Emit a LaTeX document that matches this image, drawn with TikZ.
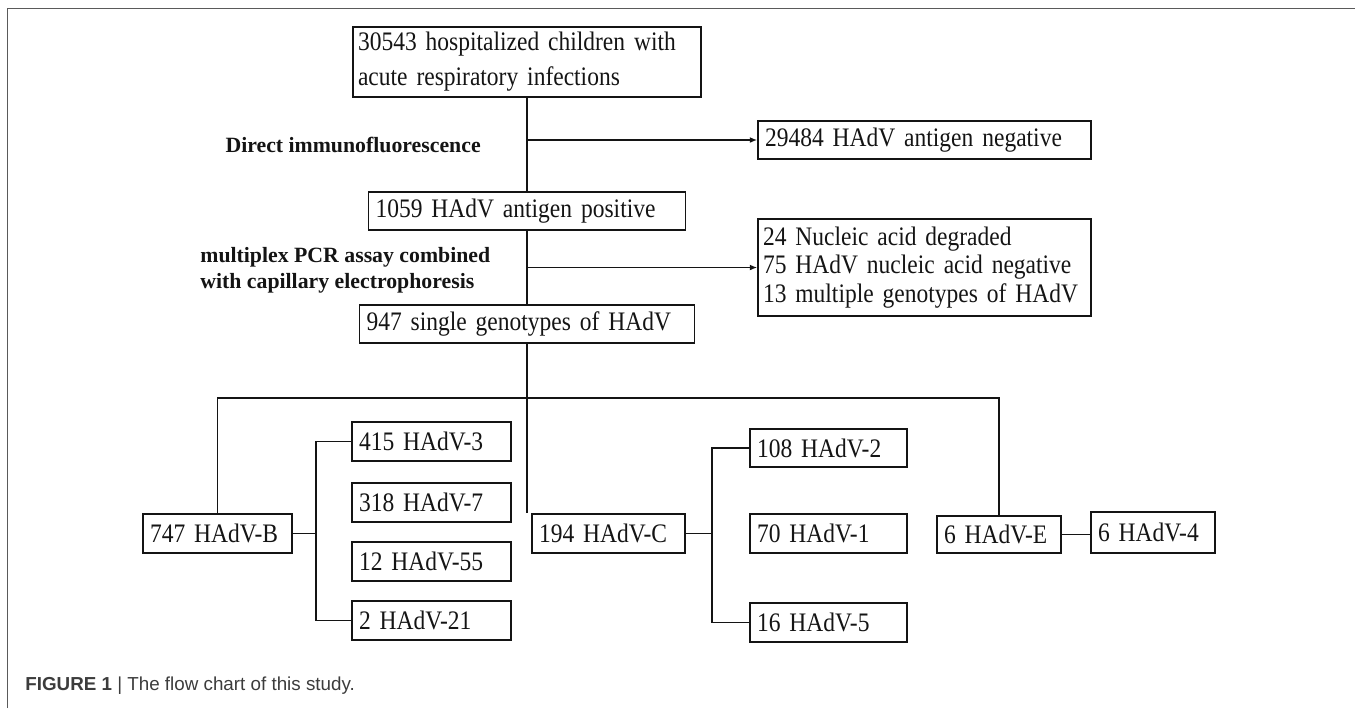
\documentclass[tikz,border=0pt]{standalone}
\usepackage{fontspec}
\setmainfont{Liberation Serif}
\setsansfont{Liberation Sans}
\newfontfamily\boxserif{Liberation Serif}[FakeStretch=0.88]
\usetikzlibrary{arrows.meta,positioning,calc}
\definecolor{ink}{HTML}{141414}
\definecolor{frame}{HTML}{5A5A5A}
\definecolor{capgray}{HTML}{3C3C3C}
\newcommand{\boxfont}[1]{\boxserif\fontsize{15.2}{#1}\selectfont}
\tikzset{
  box/.style={draw=ink, line width=0.9pt, inner xsep=1.4mm, inner ysep=0pt, align=left, text=ink, font=\boxfont{16.2pt}},
  stage/.style={font=\fontsize{12.4}{14.7}\selectfont\bfseries, text=ink, align=left, inner sep=0pt},
  link/.style={draw=ink, line width=0.9pt},
  arrow/.style={-{Latex[length=1.5mm,width=1.2mm]}, draw=ink, line width=0.9pt},
  caption/.style={font=\fontsize{10.7}{13}\selectfont\sffamily, text=capgray, inner sep=0pt}
}
\begin{document}
\begin{tikzpicture}[x=0.02cm,y=-0.02cm]
\useasboundingbox (0,0) rectangle (1355,708);
\draw[frame, line width=0.8pt] (7.5,708) -- (7.5,8.5) -- (1355,8.5);
\node[box, text width=67.6mm, inner xsep=1mm, minimum height=14mm, font=\boxfont{19.8pt}] (top) at (527,62) {30543 hospitalized children with\\acute respiratory infections};
\node[box, text width=63.8mm, minimum height=7.6mm] (neg) at (924.5,140) {29484 HAdV antigen negative};
\node[box, text width=60.6mm, minimum height=7.6mm] (pos) at (527,211) {1059 HAdV antigen positive};
\node[box, text width=64.6mm, inner xsep=1mm, minimum height=19.4mm] (excl) at (924.5,267.5) {24 Nucleic acid degraded\\75 HAdV nucleic acid negative\\13 multiple genotypes of HAdV};
\node[box, text width=64.2mm, minimum height=7.6mm] (single) at (527,324) {947 single genotypes of HAdV};
\node[stage, anchor=east] (dif) at (481,145) {Direct immunofluorescence};
\node[stage, anchor=west] (pcr) at (200,270) {multiplex PCR assay combined\\with capillary electrophoresis};
\draw[link] (top.south) -- (top.south |- pos.north);
\draw[arrow] (top.south |- neg.west) -- (neg.west);
\draw[link] (pos.south) -- (pos.south |- single.north);
\draw[arrow] (pos.south |- excl.west) -- (excl.west);
\node[box, text width=27mm, minimum height=7.8mm] (hadvb) at (217.5,533.5) {747 HAdV-B};
\node[box, text width=29mm, minimum height=7.8mm] (b3) at (431.5,441.5) {415 HAdV-3};
\node[box, text width=29mm, minimum height=7.8mm] (b7) at (431.5,502.5) {318 HAdV-7};
\node[box, text width=29mm, minimum height=7.8mm] (b55) at (431.5,561.5) {12 HAdV-55};
\node[box, text width=29mm, minimum height=7.8mm] (b21) at (431.5,620.5) {2 HAdV-21};
\node[box, text width=27.8mm, minimum height=7.8mm] (hadvc) at (608.5,533.5) {194 HAdV-C};
\node[box, text width=28.6mm, minimum height=7.6mm] (c2) at (828.5,448) {108 HAdV-2};
\node[box, text width=28.6mm, minimum height=7.8mm] (c1) at (828.5,533.5) {70 HAdV-1};
\node[box, text width=28.6mm, minimum height=7.8mm] (c5) at (828.5,622.5) {16 HAdV-5};
\node[box, text width=22mm, minimum height=7.4mm] (hadve) at (999,534.5) {6 HAdV-E};
\node[box, text width=22mm, minimum height=8.2mm] (e4) at (1153,532.5) {6 HAdV-4};
\coordinate (hub) at (527,398);
\draw[link] (single.south) -- (single.south |- hadvc.north);
\draw[link] (hadvb.north) |- (hub) -| (hadve.north);
\draw[link] (hadvb.east) -- ++(23,0) coordinate (bj);
\draw[link] (b3.west) -| (bj) |- (b21.west);
\draw[link] (hadvc.east) -- ++(26,0) coordinate (cj);
\draw[link] (c2.west) -| (cj) |- (c5.west);
\draw[link] (hadve.east) -- (hadve.east -| e4.west);
\node[caption, anchor=west] (cap) at (25,686) {\textbf{FIGURE 1} | The flow chart of this study.};
\end{tikzpicture}
\end{document}
